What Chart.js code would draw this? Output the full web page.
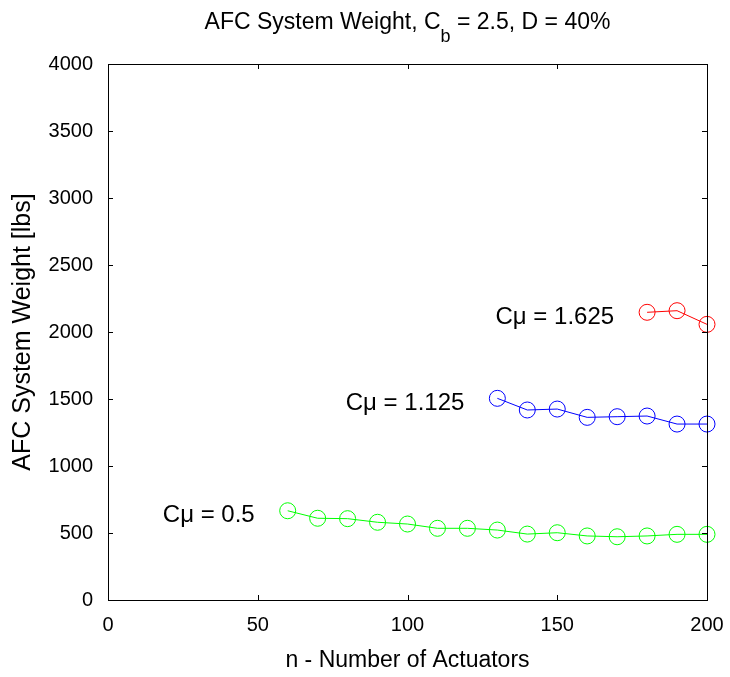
<!DOCTYPE html>
<html>
<head>
<meta charset="utf-8">
<script src="https://cdn.jsdelivr.net/npm/chart.js@4/dist/chart.umd.min.js"></script>
<style>
  html, body { margin: 0; padding: 0; background: #fff; }
  #wrap { width: 730px; height: 677px; }
</style>
</head>
<body>
<div id="wrap"><canvas id="chart" width="730" height="677"></canvas></div>
<script>
// data
const nLow = [60, 70, 80, 90, 100, 110, 120, 130, 140, 150, 160, 170, 180, 190, 200];
const weightLow = [666, 610, 607, 580, 567, 535, 535, 522, 492, 502, 478, 472, 478, 490, 490];
const nMid = [130, 140, 150, 160, 170, 180, 190, 200];
const weightMid = [1505, 1418, 1425, 1363, 1368, 1373, 1313, 1313];
const nHigh = [180, 190, 200];
const weightHigh = [2147, 2159, 2057];
const seriesLabels = ['C\u03bc = 0.5', 'C\u03bc = 1.125', 'C\u03bc = 1.625'];
const xTicks = [0, 50, 100, 150, 200];
const yTicks = [0, 500, 1000, 1500, 2000, 2500, 3000, 3500, 4000];

const FONT = '"Liberation Sans", Arial, sans-serif';

function toPoints(xs, ys) {
    return xs.map((x, i) => ({ x: x, y: ys[i] }));
}

function makeSet(label, xs, ys, color) {
    return {
        label: label,
        data: toPoints(xs, ys),
        borderColor: color,
        backgroundColor: 'transparent',
        borderWidth: 1,
        pointStyle: 'circle',
        pointRadius: 8,
        pointBorderWidth: 1,
        pointBorderColor: color,
        pointBackgroundColor: 'transparent',
        showLine: true,
        tension: 0
    };
}

// box, inward ticks, title and text labels, MATLAB style
const matlabFrame = {
    id: 'matlabFrame',
    afterDraw(chart) {
        const ctx = chart.ctx;
        const a = chart.chartArea;
        const xs = chart.scales.x;
        const ys = chart.scales.y;
        const len = 5;
        ctx.save();
        ctx.strokeStyle = '#000';
        ctx.lineWidth = 1;
        ctx.strokeRect(Math.round(a.left) + 0.5, Math.round(a.top) + 0.5,
            Math.round(a.right - a.left), Math.round(a.bottom - a.top));
        ctx.beginPath();
        xTicks.forEach(v => {
            const px = Math.round(xs.getPixelForValue(v)) + 0.5;
            ctx.moveTo(px, a.bottom); ctx.lineTo(px, a.bottom - len);
            ctx.moveTo(px, a.top); ctx.lineTo(px, a.top + len);
        });
        yTicks.forEach(v => {
            const py = Math.round(ys.getPixelForValue(v)) + 0.5;
            ctx.moveTo(a.left, py); ctx.lineTo(a.left + len, py);
            ctx.moveTo(a.right, py); ctx.lineTo(a.right - len, py);
        });
        ctx.stroke();

        // title with subscript
        ctx.fillStyle = '#000';
        ctx.textBaseline = 'alphabetic';
        const big = '23px ' + FONT;
        const small = '18px ' + FONT;
        const parts = [
            { t: 'AFC System Weight, C', f: big, dy: 0 },
            { t: 'b', f: small, dy: 13 },
            { t: ' = 2.5, D = 40%', f: big, dy: 0 }
        ];
        let total = 0;
        parts.forEach(p => { ctx.font = p.f; total += ctx.measureText(p.t).width; });
        let x = (a.left + a.right) / 2 - total / 2;
        parts.forEach(p => {
            ctx.font = p.f;
            ctx.fillText(p.t, x, 29 + p.dy);
            x += ctx.measureText(p.t).width;
        });

        // series labels placed left of each curve's first point
        ctx.font = '24px ' + FONT;
        ctx.textAlign = 'right';
        ctx.textBaseline = 'middle';
        const firsts = [[nLow[0], weightLow[0]], [nMid[0], weightMid[0]], [nHigh[0], weightHigh[0]]];
        firsts.forEach((f, i) => {
            const px = xs.getPixelForValue(f[0]) - 33;
            const py = ys.getPixelForValue(f[1]) + 5;
            ctx.fillText(seriesLabels[i], px, py);
        });
        ctx.restore();
    }
};

const ctx = document.getElementById('chart').getContext('2d');
new Chart(ctx, {
    type: 'scatter',
    data: {
        datasets: [
            makeSet(seriesLabels[0], nLow, weightLow, '#00ff00'),
            makeSet(seriesLabels[1], nMid, weightMid, '#0000ff'),
            makeSet(seriesLabels[2], nHigh, weightHigh, '#ff0000')
        ]
    },
    plugins: [matlabFrame],
    options: {
        responsive: false,
        animation: false,
        clip: false,
        layout: { padding: { top: 64, right: 23, left: 0, bottom: 0 } },
        plugins: {
            legend: { display: false },
            tooltip: { enabled: false }
        },
        scales: {
            x: {
                type: 'linear',
                min: 0, max: 200,
                afterFit: s => { s.height = 77; s.paddingLeft = 0; s.paddingRight = 0; },
                afterBuildTicks: s => { s.ticks = xTicks.map(v => ({ value: v })); },
                grid: { display: false, drawTicks: false },
                border: { display: false },
                ticks: { color: '#000', font: { family: FONT, size: 20 }, padding: 13, maxRotation: 0,
                         callback: v => String(v) },
                title: { display: true, text: 'n - Number of Actuators', color: '#000',
                         font: { family: FONT, size: 23 }, padding: { top: 0, bottom: 3 } }
            },
            y: {
                type: 'linear',
                min: 0, max: 4000,
                afterFit: s => { s.width = 108; s.paddingTop = 0; s.paddingBottom = 0; },
                afterBuildTicks: s => { s.ticks = yTicks.map(v => ({ value: v })); },
                grid: { display: false, drawTicks: false },
                border: { display: false },
                ticks: { color: '#000', font: { family: FONT, size: 20 }, padding: 15,
                         callback: v => String(v) },
                title: { display: true, text: 'AFC System Weight [lbs]', color: '#000',
                         font: { family: FONT, size: 25 }, padding: { top: 8, bottom: 0 } }
            }
        }
    }
});
</script>
</body>
</html>
